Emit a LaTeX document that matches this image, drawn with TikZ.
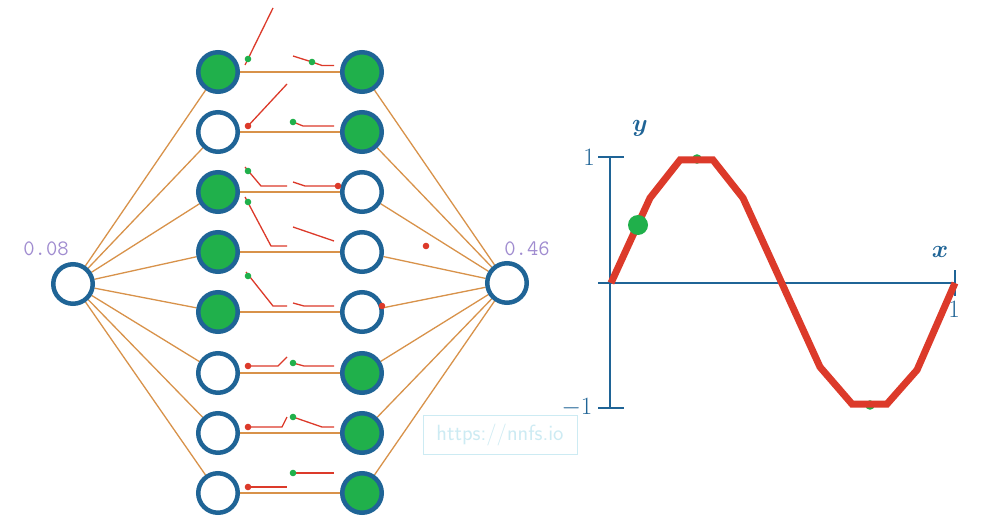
\documentclass[tikz,border=0pt]{standalone}
\usepackage{amsmath,amssymb}
\usepackage{xcolor}
\usepackage{tikz}
\usetikzlibrary{positioning,calc,backgrounds}

\definecolor{nnblue}{HTML}{1F6496}
\definecolor{nngreen}{HTML}{20B04B}
\definecolor{nnorange}{HTML}{D8924A}
\definecolor{nnred}{HTML}{DC3A2A}
\definecolor{nnlabel}{HTML}{A08CD0}
\definecolor{nnmark}{HTML}{CDEBF3}

\begin{document}
\begin{tikzpicture}[x=1pt, y=-1pt, font=\footnotesize,
  neuron/.style={circle, draw=nnblue, line width=4.5pt, minimum size=39.5pt, inner sep=0pt, fill=white},
  on/.style={fill=nngreen},
  off/.style={fill=white},
  edge/.style={draw=nnorange, line width=1.3pt},
  relu/.style={draw=nnred, line width=1.3pt},
  axis/.style={draw=nnblue, line width=2.5pt},
  val/.style={font=\ttfamily\fontsize{22}{22}\selectfont, text=nnlabel, inner sep=0pt},
  tick/.style={text=nnblue, font=\fontsize{25}{25}\selectfont, inner sep=0pt}]
\useasboundingbox (0,0) rectangle (981,529);
\node[neuron] (in) at (73,284) {};
\node[neuron] (out) at (507,283) {};
\foreach \i/\ya/\sa/\sb in {1/72/on/on, 2/132/off/on, 3/192/on/off, 4/252/on/off,
                            5/312/on/off, 6/373/off/on, 7/433/off/on, 8/493/off/on} {
  \node[neuron, \sa] (h1-\i) at (218,\ya) {};
  \node[neuron, \sb] (h2-\i) at (362,\ya) {};
}
\begin{scope}[on background layer]
  \fill[white] (0,0) rectangle (981,529);
  \foreach \i in {1,...,8} {
    \draw[edge] (in) -- (h1-\i);
    \draw[edge] (h1-\i) -- (h2-\i);
    \draw[edge] (h2-\i) -- (out);
  }
\end{scope}
\node[val] (v-in) at (46,249) {0.08};
\node[val] (v-out) at (527,249) {0.46};

\draw[relu] (273,8) -- (245,65);              \fill[nngreen] (248,59) circle (3.3);
\draw[relu] (293,56) -- (312,62) -- (322,65.5) -- (334,65.5); \fill[nngreen] (312,62) circle (3.3);
\draw[relu] (248,126) -- (287,84);            \fill[nnred] (248,126) circle (3.3);
\draw[relu] (293,122) -- (303,126) -- (334,126); \fill[nngreen] (293,122) circle (3.3);
\draw[relu] (245,167) -- (261,186) -- (287,186); \fill[nngreen] (248,171) circle (3.3);
\draw[relu] (293,182) -- (305,186) -- (338,186); \fill[nnred] (338,186) circle (3.3);
\draw[relu] (245,197) -- (271,246) -- (287,246); \fill[nngreen] (248,202) circle (3.3);
\draw[relu] (293,227) -- (334,241);           \fill[nnred] (426,246) circle (3.3);
\draw[relu] (246,272) -- (273,306) -- (287,306); \fill[nngreen] (248,276) circle (3.3);
\draw[relu] (293,303) -- (304,306) -- (334,306); \fill[nnred] (382,306) circle (3.3);
\draw[relu] (248,366) -- (278,366) -- (287,357); \fill[nnred] (248,366) circle (3.3);
\draw[relu] (293,363) -- (304,366) -- (334,366); \fill[nngreen] (293,363) circle (3.3);
\draw[relu] (248,427) -- (282,427) -- (287,417); \fill[nnred] (248,427) circle (3.3);
\draw[relu] (293,417) -- (322,427) -- (334,427); \fill[nngreen] (293,417) circle (3.3);
\draw[relu] (248,487) -- (287,487);           \fill[nnred] (248,487) circle (3.3);
\draw[relu] (293,473) -- (334,473);           \fill[nngreen] (293,473) circle (3.3);

\node[draw=nnmark, line width=1pt, text=nnmark, font=\sffamily\fontsize{22}{22}\selectfont,
  minimum width=154pt, minimum height=39pt, inner sep=0pt] (mark) at (500,434.5) {https://nnfs.io};

\draw[axis] (610,157) -- (610,408);
\draw[axis] (598,157) -- (624,157);
\draw[axis] (598,408) -- (624,408);
\draw[axis] (598,283) -- (955,283);
\draw[axis] (955,270) -- (955,296);
\node[tick] (y-top) at (589,157) {1};
\node[tick] (y-bot) at (577,408) {$-1$};
\node[tick] (x-end) at (954,309) {1};
\node[tick, font=\fontsize{31}{31}\selectfont] (y-lab) at (640,128) {$\boldsymbol{y}$};
\node[tick, font=\fontsize{31}{31}\selectfont] (x-lab) at (940,252) {$\boldsymbol{x}$};
\fill[nngreen] (697,159) circle (4.8);
\fill[nngreen] (870,405) circle (4.8);
\draw[nnred, line width=7pt] (611,283) -- (650,198) -- (680,160) -- (713,160) -- (743,198)
  -- (820,367) -- (852,404) -- (887,404) -- (917,370) -- (955,283);
\fill[nngreen] (638,225) circle (10);
\end{tikzpicture}
\end{document}
